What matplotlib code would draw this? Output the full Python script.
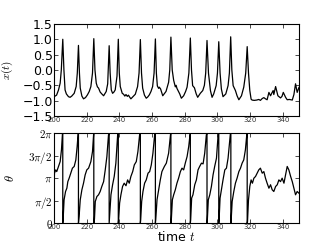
import numpy as np
import matplotlib
matplotlib.use("Agg")
import matplotlib.pyplot as plt

plt.rcParams['mathtext.fontset'] = 'cm'
plt.rcParams['font.family'] = ['DejaVu Sans']

# ---- x(t) series (time, value) ----
x_time = [200.0, 201.5, 202.7, 203.7, 204.4, 205.3, 206.0, 206.7, 207.5, 208.8, 209.8, 210.8,
          212.3, 213.5, 214.2, 214.9, 215.5, 216.0, 217.0, 218.0, 219.2, 220.4, 221.5, 222.5,
          223.5, 224.3, 225.0, 225.8, 226.5, 227.2, 228.2, 229.2, 230.3, 231.9, 232.8, 233.7,
          234.3, 235.0, 235.8, 236.6, 237.4, 238.5, 239.3, 239.9, 240.5, 241.7, 242.5, 243.3,
          244.0, 244.8, 245.5, 246.2, 247.0, 248.3, 249.7, 251.1, 252.0, 252.8, 253.5, 254.2,
          255.3, 256.4, 257.3, 258.3, 259.3, 260.3, 261.2, 262.0, 262.6, 263.2, 264.0, 264.4,
          265.2, 266.5, 268.5, 270.1, 270.8, 271.5, 272.3, 273.2, 274.2, 274.7, 275.2, 276.9,
          277.9, 279.3, 280.5, 281.4, 282.5, 283.4, 284.1, 284.8, 285.4, 285.9, 287.0, 287.9,
          289.5, 291.0, 292.0, 292.8, 293.6, 294.5, 295.7, 296.7, 297.7, 299.2, 300.0, 300.8,
          301.6, 302.4, 303.4, 305.1, 306.5, 307.3, 308.1, 308.8, 309.6, 311.0, 312.0, 313.1,
          314.7, 316.1, 317.3, 318.2, 319.0, 319.8, 320.6, 321.2, 322.5, 324.0, 325.3, 326.3,
          327.4, 328.4, 329.4, 330.4, 331.5, 332.5, 333.3, 334.1, 334.5, 335.6, 337.0, 338.6,
          339.5, 340.3, 341.7, 342.7, 344.0, 345.8, 346.8, 347.8, 348.8, 349.9]
x_value = [-0.87, -0.82, -0.65, -0.43, 0.0, 1.0, 0.0, -0.65, -0.78, -0.87, -0.89, -0.85,
           -0.76, -0.54, -0.1, 0.80, -0.1, -0.59, -0.85, -0.94, -0.9, -0.81, -0.7, -0.54,
           -0.1, 1.02, 0.0, -0.43, -0.55, -0.59, -0.72, -0.78, -0.84, -0.7, -0.45, 0.79,
           -0.1, -0.65, -0.76, -0.72, -0.65, -0.2, 1.0, -0.1, -0.54, -0.76, -0.79, -0.85,
           -0.8, -0.86, -0.82, -0.88, -0.94, -0.87, -0.79, -0.54, -0.1, 0.99, -0.1, -0.59,
           -0.82, -0.92, -0.88, -0.81, -0.7, -0.54, -0.1, 1.01, -0.1, -0.52, -0.6, -0.56,
           -0.62, -0.84, -0.7, -0.4, 0.0, 1.07, 0.0, -0.34, -0.55, -0.5, -0.6, -0.78,
           -0.92, -0.84, -0.7, -0.56, -0.1, 1.04, 0.0, -0.51, -0.55, -0.58, -0.78, -0.89,
           -0.76, -0.67, -0.5, -0.1, 0.96, -0.1, -0.67, -0.89, -0.78, -0.51, -0.1, 0.92,
           -0.1, -0.62, -0.87, -0.78, -0.51, -0.1, 1.08, 0.0, -0.51, -0.67, -0.84, -0.97,
           -0.84, -0.56, -0.1, 0.76, -0.1, -0.67, -0.95, -0.98, -0.99, -0.98, -0.96, -0.99,
           -0.93, -0.9, -0.94, -0.97, -0.73, -0.84, -0.75, -0.67, -0.8, -0.54, -0.84, -0.91,
           -0.86, -0.73, -0.89, -0.97, -0.96, -0.98, -0.8, -0.45, -0.73, -0.57]

# ---- theta(t) phase series (time, radians) ----
theta_time = [200.0, 200.2, 201.0, 201.6, 202.7, 203.7, 204.5, 205.1, 205.3, 205.3,
              205.5, 206.1, 207.0, 207.8, 208.4, 209.2, 210.2, 211.2, 212.3, 213.3, 214.1, 214.7, 214.9, 214.9,
              215.3, 216.0, 217.0, 218.0, 219.0, 220.0, 221.1, 222.5, 223.5, 224.2, 224.3, 224.3,
              224.7, 225.2, 226.2, 227.2, 228.2, 229.2, 230.3, 231.3, 232.3, 233.3, 233.7, 233.7,
              233.9, 234.8, 235.8, 236.8, 237.8, 238.9, 239.3, 239.3,
              239.5, 240.1, 240.9, 241.9, 242.9, 244.0, 245.0, 246.0, 247.0, 248.1, 249.1, 250.3, 251.3, 252.4, 252.8, 252.8,
              253.0, 253.6, 254.4, 255.4, 256.4, 257.5, 258.5, 259.5, 260.5, 261.6, 262.0, 262.0,
              262.2, 263.0, 264.0, 265.0, 266.0, 267.5, 268.7, 270.1, 271.3, 271.5, 271.5,
              271.7, 272.4, 273.2, 274.2, 275.2, 276.2, 277.3, 278.3, 279.3, 280.3, 281.4, 282.4, 283.2, 283.4, 283.4,
              283.6, 284.2, 285.0, 286.1, 287.1, 288.1, 289.1, 290.2, 291.2, 292.2, 293.2, 293.6, 293.6,
              293.8, 294.4, 295.3, 296.3, 297.3, 298.3, 299.4, 300.4, 300.8, 300.8,
              301.0, 301.6, 302.4, 303.4, 304.5, 305.5, 306.5, 307.9, 308.2, 308.2,
              308.4, 309.0, 310.0, 311.0, 312.0, 313.1, 314.1, 315.1, 316.1, 317.1, 318.0, 318.2, 318.2,
              318.4, 319.0, 319.8, 320.6, 321.4, 322.3, 323.3, 324.3, 325.3, 326.3, 327.4, 328.4,
              329.4, 330.4, 331.5, 332.5, 333.5, 334.5, 335.6, 336.6, 337.6, 338.6, 339.6, 340.7,
              341.7, 342.7, 343.7, 344.8, 345.8, 346.8, 347.8, 348.8, 349.9]
theta_value = [2.44, 3.49, 3.72, 3.6, 3.96, 4.3, 5.12, 6.24, 6.28, 0.0,
               0.23, 1.63, 2.21, 2.44, 2.9, 3.14, 3.49, 3.84, 3.96, 4.42, 5.35, 6.24, 6.28, 0.0,
               0.47, 1.63, 2.33, 2.79, 3.37, 3.72, 3.84, 4.3, 5.0, 6.24, 6.28, 0.0,
               0.28, 1.51, 1.86, 1.98, 2.21, 2.56, 2.9, 3.72, 4.65, 6.17, 6.28, 0.0,
               0.35, 1.98, 2.68, 3.26, 4.19, 6.17, 6.28, 0.0,
               0.23, 1.4, 1.98, 2.56, 2.79, 2.61, 3.02, 2.79, 3.26, 3.6, 4.07, 4.3, 5.0, 6.24, 6.28, 0.0,
               0.23, 1.51, 2.21, 2.79, 3.02, 3.49, 3.6, 4.07, 4.89, 6.24, 6.28, 0.0,
               0.23, 1.63, 2.33, 3.02, 3.6, 3.96, 4.19, 4.89, 6.24, 6.28, 0.0,
               0.12, 1.63, 1.98, 2.33, 2.79, 3.14, 3.6, 3.84, 3.72, 4.19, 4.65, 5.35, 6.17, 6.28, 0.0,
               0.23, 1.75, 1.98, 2.68, 3.02, 3.72, 3.96, 4.19, 4.14, 4.89, 6.17, 6.28, 0.0,
               0.23, 1.63, 1.98, 2.56, 3.37, 3.96, 4.54, 6.17, 6.28, 0.0,
               0.23, 1.75, 2.33, 3.02, 3.72, 3.84, 4.54, 6.24, 6.28, 0.0,
               0.23, 1.51, 2.21, 2.79, 3.14, 3.6, 3.84, 4.19, 4.42, 5.12, 6.24, 6.28, 0.0,
               0.12, 1.63, 2.56, 3.02, 2.79, 3.14, 3.26, 3.49, 3.72, 3.84, 3.49, 3.6,
               3.14, 2.79, 2.44, 2.68, 2.33, 2.21, 2.56, 2.68, 3.02, 2.9, 3.14, 2.79,
               3.37, 3.96, 3.72, 3.26, 2.9, 2.44, 1.98, 2.21, 2.09]

xticks = [200, 220, 240, 260, 280, 300, 320, 340]
x_yticks = [-1.5, -1.0, -0.5, 0.0, 0.5, 1.0, 1.5]
theta_yticks = [0, np.pi / 2, np.pi, 3 * np.pi / 2, 2 * np.pi]
theta_yticklabels = [r'$0$', r'$\pi/2$', r'$\pi$', r'$3\pi/2$', r'$2\pi$']

fig = plt.figure(figsize=(3.32, 2.49), dpi=100, facecolor='white')
ax1 = fig.add_axes([0.163, 0.534, 0.738, 0.37])
ax2 = fig.add_axes([0.163, 0.104, 0.738, 0.361])

for ax in (ax1, ax2):
    ax.tick_params(direction='in', top=True, right=True, length=3, width=0.5)
    ax.tick_params(axis='x', labelsize=5, pad=1, labelcolor='#333333')
    for s in ax.spines.values():
        s.set_linewidth(0.8)
    ax.set_xlim(200, 350)
    ax.set_xticks(xticks)

ax1.plot(x_time, x_value, color='black', lw=0.9)
ax1.set_ylim(-1.5, 1.5)
ax1.set_yticks(x_yticks)
ax1.set_yticklabels(['\u22121.5', '\u22121.0', '\u22120.5', '0.0', '0.5', '1.0', '1.5'])
ax1.tick_params(axis='y', labelsize=9, pad=1)
ax1.set_ylabel(r'$x(t)$', fontsize=8)
ax1.yaxis.set_label_coords(-0.16, 0.5)

ax2.plot(theta_time, theta_value, color='black', lw=0.9)
ax2.set_ylim(0, 2 * np.pi)
ax2.set_yticks(theta_yticks)
ax2.set_yticklabels(theta_yticklabels)
ax2.tick_params(axis='y', labelsize=8, pad=1)
ax2.set_ylabel(r'$\theta$', fontsize=9)
ax2.yaxis.set_label_coords(-0.15, 0.5)
ax2.set_xlabel(r'time $t$', fontsize=9, labelpad=0)

fig.savefig('out.png', dpi=100, facecolor='white')
